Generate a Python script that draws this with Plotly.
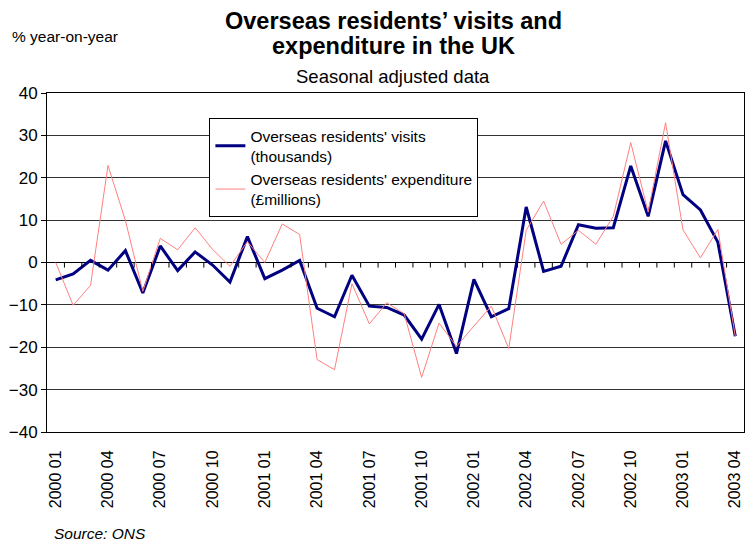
import plotly.graph_objects as go

# Monthly periods, Jan 2000 to Apr 2003
months = [f"{y} {m:02d}" for y in (2000, 2001, 2002, 2003) for m in range(1, 13)][:40]
tick_labels = months[::3]

# % change on a year earlier, seasonally adjusted
visits = [-4.1, -2.7, 0.5, -1.8, 2.8, -7.2, 3.9, -1.9, 2.5, -0.6,
          -4.6, 6.1, -3.8, -1.8, 0.5, -10.8, -12.8, -3.0, -10.3, -10.6,
          -12.4, -18.1, -9.9, -21.5, -4.0, -12.8, -10.9, 13.1, -2.1, -0.9,
          8.9, 8.1, 8.2, 22.8, 10.9, 28.7, 16.0, 12.4, 4.8, -17.4]
expenditure = [0.0, -10.1, -5.4, 22.9, 9.9, -6.8, 5.7, 3.0, 8.2, 3.1,
               -0.9, 4.9, 0.0, 9.1, 6.6, -22.9, -25.3, -5.0, -14.5, -9.5,
               -12.1, -27.1, -14.3, -19.8, -15.0, -10.3, -20.3, 7.6, 14.5, 4.3,
               7.6, 4.3, 10.9, 28.3, 11.9, 33.0, 7.7, 1.1, 7.8, -17.4]

FONT = "Liberation Sans, Arial, sans-serif"

fig = go.Figure()
fig.add_trace(go.Scatter(
    x=months, y=visits, mode="lines",
    name="Overseas residents' visits<br>(thousands)",
    line=dict(color="#000080", width=3),
))
fig.add_trace(go.Scatter(
    x=months, y=expenditure, mode="lines",
    name="Overseas residents' expenditure<br>(£millions)",
    line=dict(color="#FF8080", width=1),
))

# Category-boundary tick marks hanging below the zero line
for i in range(1, len(months)):
    fig.add_shape(type="line", xref="x", yref="y",
                  x0=i - 0.5, x1=i - 0.5, y0=0, y1=-1.2,
                  line=dict(color="black", width=1))

fig.update_layout(
    width=754, height=543, autosize=False,
    margin=dict(l=43, r=9, t=93, b=111),
    paper_bgcolor="white", plot_bgcolor="white",
    font=dict(family=FONT, color="black"),
    showlegend=True,
    legend=dict(
        x=0.233, y=0.926, xanchor="left", yanchor="top",
        bgcolor="white", bordercolor="black", borderwidth=1,
        font=dict(size=15.5, family=FONT), tracegroupgap=0,
        itemwidth=30,
    ),
    annotations=[
        dict(text="<b>Overseas residents’ visits and</b>", x=0.497, y=1.2124,
             xref="paper", yref="paper", showarrow=False,
             xanchor="center", yanchor="middle", font=dict(size=23.5)),
        dict(text="<b>expenditure in the UK</b>", x=0.497, y=1.1386,
             xref="paper", yref="paper", showarrow=False,
             xanchor="center", yanchor="middle", font=dict(size=23.5)),
        dict(text="Seasonal adjusted data", x=0.497, y=1.0472,
             xref="paper", yref="paper", showarrow=False,
             xanchor="center", yanchor="middle", font=dict(size=18.5)),
        dict(text="% year-on-year", x=-0.053, y=1.168,
             xref="paper", yref="paper", showarrow=False,
             xanchor="left", yanchor="middle", font=dict(size=15.5)),
        dict(text="<i>Source: ONS</i>", x=0.0071, y=-0.298,
             xref="paper", yref="paper", showarrow=False,
             xanchor="left", yanchor="middle", font=dict(size=15.5)),
    ],
)

fig.update_xaxes(
    type="category", categoryorder="array", categoryarray=months,
    range=[-0.5, len(months) - 0.5],
    tickmode="array", tickvals=tick_labels, ticktext=tick_labels,
    tickangle=-90, ticks="", ticklabelstandoff=11,
    tickfont=dict(size=16, family=FONT),
    showgrid=False, zeroline=False,
    showline=True, linecolor="black", linewidth=1, mirror=True,
)
fig.update_yaxes(
    range=[-40, 40], tickmode="linear", tick0=-40, dtick=10,
    ticks="outside", ticklen=5, tickcolor="black",
    tickfont=dict(size=17, family=FONT),
    showgrid=True, gridcolor="#333333", gridwidth=1,
    zeroline=True, zerolinecolor="black", zerolinewidth=1,
    showline=True, linecolor="black", linewidth=1, mirror=True,
)

fig.write_html("out.html")
